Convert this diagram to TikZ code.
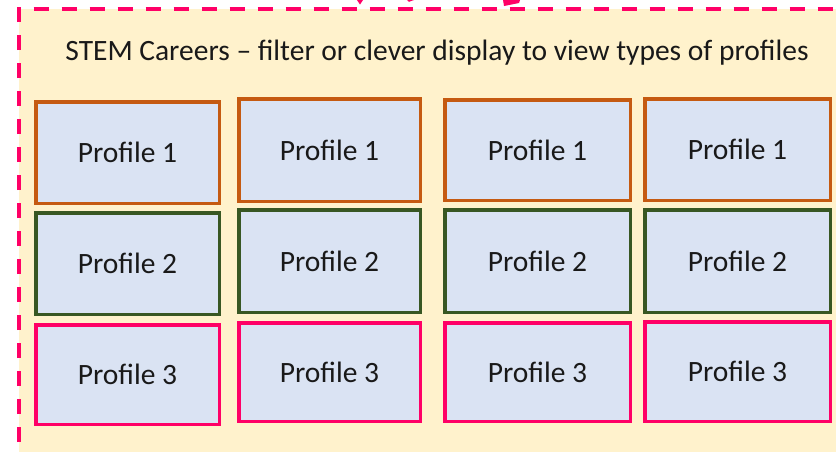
\documentclass[tikz,border=0pt]{standalone}
\usepackage{fontspec}
\setmainfont{Carlito}
\definecolor{pinkc}{HTML}{FF0066}
\definecolor{bgy}{HTML}{FFF2CC}
\definecolor{boxfill}{HTML}{DAE3F3}
\definecolor{orangec}{HTML}{C55A11}
\definecolor{greenc}{HTML}{385723}
\tikzset{
  pbox/.style={draw=#1, line width=3.5pt, fill=boxfill, inner sep=0pt,
    font=\fontsize{29.5}{34}\selectfont, text=black!90},
}
\begin{document}
\begin{tikzpicture}[x=1pt,y=-1pt]
\useasboundingbox (0,0) rectangle (836,451);
\clip (0,0) rectangle (836,451);
% background panel
\fill[bgy] (19,9) rectangle (850,470);
\draw[pinkc, line width=4pt, dash pattern=on 15pt off 13pt] (19,470) -- (19,8.7) -- (850,8.7);
% cut-off fragments at top
\fill[pinkc] (357,0) -- (363,0) -- (360,4.5) -- cycle;
\fill[pinkc] (407,0) -- (414,0) -- (409,1.8) -- cycle;
\fill[pinkc] (503,0) -- (520,0) -- (519,3) -- (504,6) -- cycle;
% title
\node[font=\fontsize{29.5}{34}\selectfont, text=black!90] (title) at (437,53) {STEM Careers -- filter or clever display to view types of profiles};
% column 1
\node[pbox=orangec, minimum width=183.5pt, minimum height=101.5pt] (a1) at (127.5,152.5) {Profile 1};
\node[pbox=greenc,  minimum width=183.5pt, minimum height=101.5pt] (a2) at (127.5,263.5) {Profile 2};
\node[pbox=pinkc,   minimum width=183.5pt, minimum height=99.5pt] (a3) at (127.5,374.5) {Profile 3};
% column 2
\node[pbox=orangec, minimum width=181.5pt, minimum height=102.5pt] (b1) at (329.5,150) {Profile 1};
\node[pbox=greenc,  minimum width=181.5pt, minimum height=102.5pt] (b2) at (329.5,261) {Profile 2};
\node[pbox=pinkc,   minimum width=181.5pt, minimum height=98.5pt] (b3) at (329.5,372) {Profile 3};
% column 3
\node[pbox=orangec, minimum width=185.5pt, minimum height=100.5pt] (c1) at (537.5,150) {Profile 1};
\node[pbox=greenc,  minimum width=185.5pt, minimum height=102.5pt] (c2) at (537.5,261) {Profile 2};
\node[pbox=pinkc,   minimum width=185.5pt, minimum height=98.5pt] (c3) at (537.5,372) {Profile 3};
% column 4
\node[pbox=orangec, minimum width=185.5pt, minimum height=101.5pt] (d1) at (737.5,149.5) {Profile 1};
\node[pbox=greenc,  minimum width=185.5pt, minimum height=102.5pt] (d2) at (737.5,261) {Profile 2};
\node[pbox=pinkc,   minimum width=185.5pt, minimum height=99.5pt] (d3) at (737.5,371.5) {Profile 3};
\end{tikzpicture}
\end{document}
